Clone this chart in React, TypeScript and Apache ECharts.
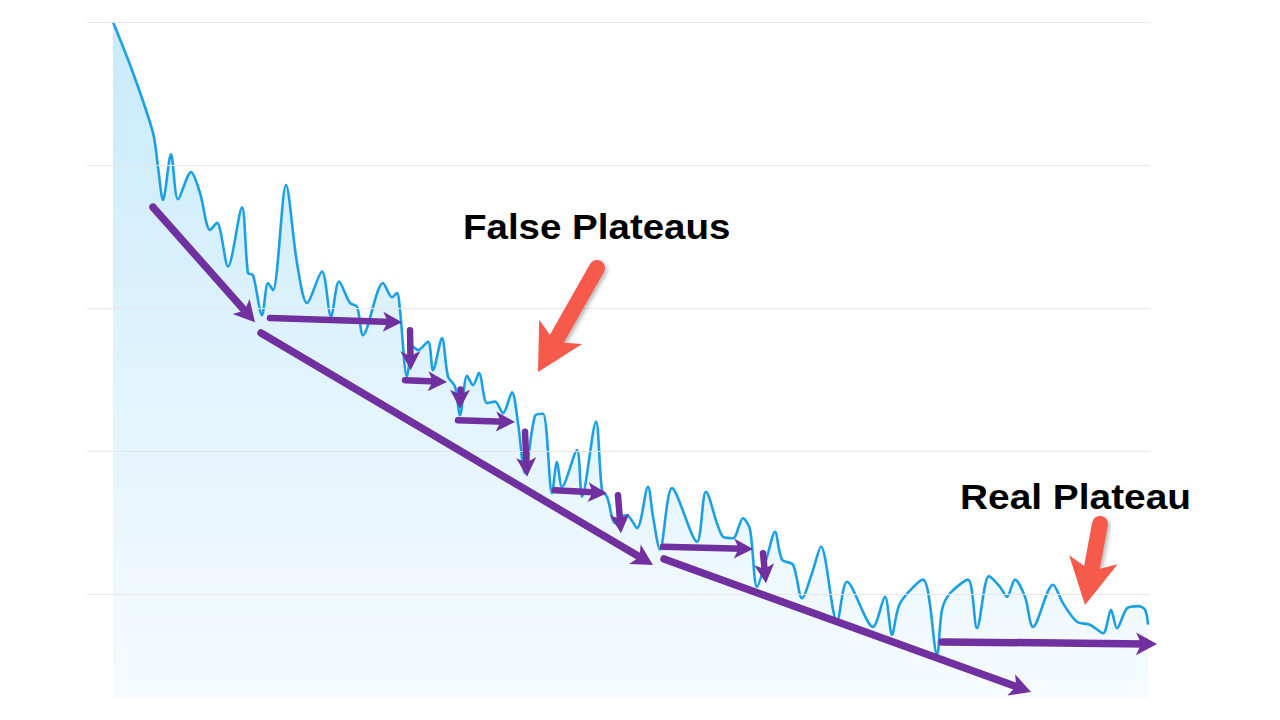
import React, { useEffect, useRef } from "react";
import * as echarts from "echarts";

// Training steps vs loss (arbitrary units)
const lossCurve: [number, number][] = [
  [0, 100.0], [20, 92.9], [40, 84.5], [45, 79.7], [50, 75.1], [58, 81.5], [65, 75.2], [78, 79.0],
  [87, 76.1], [97, 70.9], [104, 71.9], [115, 65.8], [129, 74.1], [135, 64.9], [140, 64.6], [149, 59.0],
  [155, 63.5], [160, 62.5], [173, 77.2], [184, 66.3], [194, 60.7], [209, 65.1], [218, 58.8], [226, 63.7],
  [237, 60.7], [244, 60.2], [250, 56.2], [270, 63.5], [279, 61.5], [284, 62.1], [287, 59.7], [294, 50.4],
  [300, 54.6], [305, 54.1], [315, 55.3], [320, 51.3], [329, 55.8], [335, 50.4], [342, 49.0], [347, 45.0],
  [354, 50.5], [360, 49.2], [366, 50.9], [374, 46.7], [382, 46.9], [390, 45.3], [399, 48.2], [405, 43.9],
  [412, 36.9], [422, 44.9], [430, 45.2], [439, 34.1], [444, 38.5], [449, 35.0], [464, 40.1], [469, 33.6],
  [483, 44.1], [489, 34.5], [494, 33.6], [502, 29.9], [507, 30.8], [514, 31.0], [524, 29.2], [535, 35.0],
  [540, 30.8], [547, 26.2], [559, 34.8], [584, 27.3], [593, 34.3], [610, 28.0], [620, 27.8], [630, 30.6],
  [637, 29.0], [644, 21.0], [654, 25.2], [662, 28.7], [669, 24.8], [680, 24.1], [689, 19.4], [699, 22.9],
  [708, 26.6], [724, 16.1], [734, 21.7], [760, 15.4], [772, 19.6], [779, 14.3], [787, 18.7], [810, 22.0],
  [824, 11.5], [829, 17.8], [837, 20.1], [855, 22.0], [864, 15.2], [876, 22.5], [887, 21.0], [894, 19.6],
  [902, 22.0], [912, 19.6], [920, 15.4], [940, 21.3], [950, 18.7], [964, 16.1], [977, 15.7], [990, 14.5],
  [998, 17.8], [1004, 15.2], [1014, 18.0], [1025, 18.3], [1032, 17.8], [1035, 15.7],
];

// Horizontal reference lines (loss values) and their step span
const gridLossValues = [20, 40, 60, 80, 100];
const gridStepSpan = [-26, 1037];

// Purple arrows [fromStep, fromLoss, tipStep, tipLoss]
const trendArrows: number[][] = [
  [40, 74.1, 142, 58.0],
  [148, 56.5, 540, 24.06],
  [551, 24.9, 918, 6.29],
  [829, 13.3, 1044, 13.0],
];
const stepArrows: number[][] = [
  [157, 58.6, 289, 58.0],
  [297, 56.9, 297.7, 51.3],
  [292, 49.9, 334, 49.65],
  [347, 48.6, 347, 45.9],
  [345, 44.3, 402, 44.06],
  [412, 42.7, 414, 36.4],
  [442, 34.5, 494, 34.1],
  [505, 33.8, 508, 28.5],
  [550, 26.6, 640, 26.3],
  [650, 25.7, 653, 21.5],
];
// Red pointer arrows
const pointerArrows: number[][] = [
  [484, 65.6, 425, 51.05],
  [987, 29.8, 972, 18.46],
];
const annotationLabels = ["False Plateaus", "Real Plateau"];

const PURPLE = "#7030a0";
const RED = "#f55a4b";

export default function App() {
  const ref = useRef<HTMLDivElement>(null);
  useEffect(() => {
    if (!ref.current) return;
    const chart = echarts.init(ref.current, null, { renderer: "svg" });
    const gridData = gridLossValues.map((v) => [
      { coord: [gridStepSpan[0], v] },
      { coord: [gridStepSpan[1], v] },
    ]);
    const textStyle = {
      fontFamily: '"Liberation Sans", Arial, sans-serif',
      fontWeight: "bold",
      fontSize: 35,
      fill: "#000000",
      align: "left",
      verticalAlign: "middle",
    };
    chart.setOption({
      animation: false,
      backgroundColor: "#ffffff",
      grid: { left: 87, right: 120, top: 22, bottom: 22 },
      xAxis: { type: "value", min: -26, max: 1047, show: false },
      yAxis: {
        type: "value",
        min: 5.45,
        max: 100,
        axisLine: { show: false },
        axisTick: { show: false },
        axisLabel: { show: false },
        splitLine: { show: false },
      },
      series: [
        {
          type: "line",
          data: [],
          z: 1,
          markLine: {
            silent: true,
            animation: false,
            symbol: ["none", "none"],
            label: { show: false },
            emphasis: { disabled: true },
            lineStyle: { type: "solid", color: "#e6e6e6", width: 1 },
            data: gridData,
          },
        },
        {
          type: "line",
          data: lossCurve,
          z: 2,
          smooth: 0.3,
          symbol: "none",
          clip: false,
          lineStyle: { color: "#1ca0e4", width: 2.6 },
          areaStyle: {
            opacity: 0.92,
            color: new echarts.graphic.LinearGradient(0, 0, 0, 1, [
              { offset: 0, color: "#c4e9fb" },
              { offset: 1, color: "#f5fbfe" },
            ]),
          },
        },
      ],
      graphic: [
        { type: "text", x: 463, y: 227.5, scaleX: 1.1, style: { ...textStyle, text: annotationLabels[0] } },
        { type: "text", x: 960, y: 497.5, scaleX: 1.11, style: { ...textStyle, text: annotationLabels[1] } },
      ],
    });

    // Build arrows: a round-capped shaft that stops short of the tip, plus an arrow head at the tip.
    const items: any[] = [];
    const addArrow = (
      a: number[],
      width: number,
      color: string,
      head: number[],
      backPx: number,
      shadow: boolean
    ) => {
      const p1 = chart.convertToPixel({ gridIndex: 0 }, [a[0], a[1]]) as number[];
      const p2 = chart.convertToPixel({ gridIndex: 0 }, [a[2], a[3]]) as number[];
      const dx = p2[0] - p1[0];
      const dy = p2[1] - p1[1];
      const len = Math.hypot(dx, dy) || 1;
      const neck = chart.convertFromPixel({ gridIndex: 0 }, [
        p2[0] - (dx / len) * backPx,
        p2[1] - (dy / len) * backPx,
      ]) as number[];
      const shadowStyle = shadow
        ? { shadowColor: "rgba(0,0,0,0.3)", shadowBlur: 4, shadowOffsetX: 2, shadowOffsetY: 2 }
        : {};
      items.push([
        {
          coord: [a[0], a[1]],
          symbol: "none",
          lineStyle: { color, width, cap: "round", type: "solid", ...shadowStyle },
        },
        { coord: neck, symbol: "none" },
      ]);
      items.push([
        { coord: neck, symbol: "none", lineStyle: { color, width: 0, type: "solid" } },
        { coord: [a[2], a[3]], symbol: "arrow", symbolSize: head },
      ]);
    };
    trendArrows.forEach((a) => addArrow(a, 7.5, PURPLE, [17, 21], 11, false));
    stepArrows.forEach((a) => addArrow(a, 6.5, PURPLE, [15, 19], 10, false));
    pointerArrows.forEach((a) => addArrow(a, 16, RED, [37, 46], 24, true));

    chart.setOption({
      series: [
        {},
        {
          markLine: {
            silent: true,
            animation: false,
            symbol: ["none", "arrow"],
            label: { show: false },
            emphasis: { disabled: true },
            lineStyle: { type: "solid" },
            data: items,
          },
        },
      ],
    });
    return () => chart.dispose();
  }, []);
  return (
    <div
      ref={ref}
      style={{ position: "fixed", left: 0, top: 0, width: 1280, height: 720, background: "#fff" }}
    />
  );
}
